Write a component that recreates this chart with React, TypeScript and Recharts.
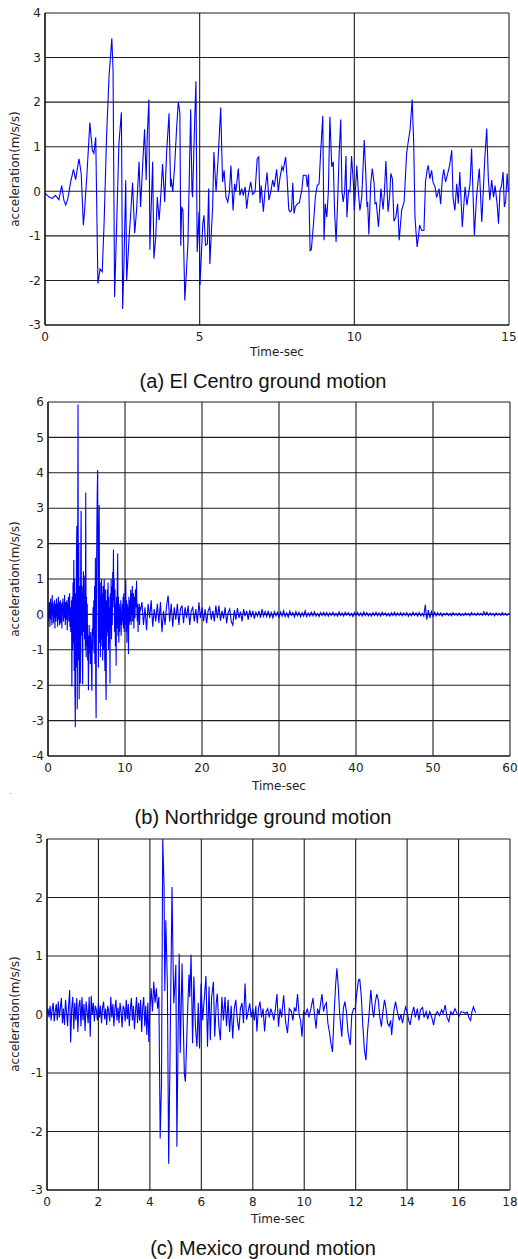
import { LineChart, Line, XAxis, YAxis, CartesianGrid } from 'recharts';

const elCentroTime = [
  0.0, 0.13, 0.24, 0.34, 0.45, 0.54, 0.61, 0.67, 0.74, 0.83,
  0.92, 0.99, 1.1, 1.17, 1.24, 1.28, 1.37, 1.45, 1.53, 1.58,
  1.64, 1.71, 1.78, 1.85, 1.91, 1.99, 2.07, 2.16, 2.2, 2.25,
  2.28, 2.39, 2.47, 2.51, 2.55, 2.61, 2.64, 2.72, 2.79, 2.83,
  2.9, 2.96, 3.04, 3.09, 3.17, 3.22, 3.27, 3.31, 3.36, 3.39,
  3.48, 3.52, 3.58, 3.63, 3.69, 3.72, 3.76, 3.8, 3.87, 3.93,
  4.01, 4.06, 4.08, 4.13, 4.19, 4.26, 4.31, 4.36, 4.39, 4.42,
  4.46, 4.52, 4.58, 4.62, 4.71, 4.75, 4.77, 4.84, 4.88, 4.92,
  4.98, 5.01,
  5.1, 5.14, 5.19, 5.25, 5.29, 5.33, 5.38, 5.42, 5.46, 5.53,
  5.6, 5.68, 5.74, 5.79, 5.85, 5.91, 5.96, 6.01, 6.08, 6.13,
  6.17, 6.25, 6.3, 6.36, 6.41, 6.47, 6.52, 6.57, 6.65, 6.71,
  6.79, 6.86, 6.91, 6.95, 6.99, 7.06, 7.11, 7.18, 7.24, 7.3,
  7.36, 7.41, 7.49, 7.54, 7.6, 7.66, 7.7, 7.78, 7.83, 7.88,
  7.92, 7.97, 8.01, 8.05, 8.09, 8.16, 8.22, 8.3, 8.35, 8.44,
  8.48, 8.52, 8.57, 8.61, 8.68, 8.74, 8.8, 8.86, 8.91, 8.98,
  9.02, 9.06, 9.11, 9.16, 9.21, 9.27, 9.32, 9.36, 9.41, 9.45,
  9.51, 9.56, 9.6, 9.64, 9.69, 9.73, 9.76, 9.81, 9.86, 9.91,
  9.97, 10.0,
  10.08, 10.13, 10.18, 10.24, 10.32, 10.37, 10.41, 10.43, 10.47, 10.53,
  10.58, 10.64, 10.67, 10.71, 10.78, 10.86, 10.93, 10.97, 11.02, 11.09,
  11.14, 11.18, 11.23, 11.28, 11.34, 11.4, 11.45, 11.53, 11.61, 11.69,
  11.75, 11.8, 11.87, 11.92, 11.96, 12.03, 12.07, 12.11, 12.18, 12.25,
  12.3, 12.35, 12.39, 12.44, 12.5, 12.54, 12.61, 12.66, 12.74, 12.79,
  12.84, 12.89, 12.95, 13.02, 13.08, 13.15, 13.19, 13.25, 13.31, 13.36,
  13.41, 13.49, 13.58, 13.64, 13.74, 13.79, 13.88, 13.95, 14.04, 14.12,
  14.18, 14.22, 14.28, 14.33, 14.38, 14.44, 14.5, 14.55, 14.62, 14.66,
  14.71, 14.76, 14.81, 14.85, 14.89, 14.94, 14.98, 15.0,
];
const elCentroAcc = [
  -0.04, -0.13, -0.16, -0.09, -0.19, 0.13, -0.2, -0.31, -0.16, 0.21,
  0.49, 0.26, 0.73, 0.4, -0.76, -0.43, 0.55, 1.54, 0.92, 0.85,
  1.21, -2.07, -1.74, -1.81, -0.73, 1.22, 2.57, 3.43, 2.72, -2.37,
  -1.66, 1.07, 1.77, -2.64, -1.7, 0.25, -2.0, -1.03, -0.28, 0.19,
  -0.94, -0.43, 0.66, -0.35, 0.77, 1.39, 0.25, 1.33, 2.06, -1.31,
  0.66, -1.51, -1.03, -0.13, -0.65, -0.35, 0.1, 0.61, -0.24, 0.85,
  1.75, 0.1, 0.28, -0.01, 0.55, 1.48, 2.0, 1.75, -1.22, -0.35,
  -0.43, -2.45, -1.7, -1.18, 1.84, 0.02, -0.13, 1.6, 2.47, -1.36,
  -0.46, -2.11,
  -0.73, -0.54, -1.21, -1.18, 0.06, -1.63, -0.88, -0.35, 0.88, -0.01,
  0.77, 1.88, 0.21, 0.47, -0.13, -0.24, -0.01, 0.58, -0.43, 0.17,
  -0.01, 0.51, -0.09, 0.06, -0.09, 0.1, -0.39, -0.09, 0.21, -0.07,
  -0.01, 0.73, 0.77, -0.26, 0.13, -0.46, -0.01, 0.42, -0.2, -0.01,
  0.25, 0.1, 0.49, -0.01, 0.32, 0.55, 0.47, 0.77, 0.25, -0.41,
  -0.46, -0.43, 0.19, -0.5, -0.35, -0.28, -0.26, 0.02, 0.36, 0.36,
  0.1, 0.38, -1.33, -1.31, -0.73, -0.13, 0.13, 0.17, 0.85, 1.69,
  -1.1, -0.28, -0.58, -0.01, 1.67, 0.55, 0.66, -0.43, -1.14, -0.43,
  0.85, 1.61, -0.01, -0.24, 0.02, 0.79, -0.58, 0.02, -0.01, 0.79,
  0.17, -0.43,
  0.58, -0.01, -0.43, -0.13, 1.15, 0.4, -0.35, -0.24, -0.97, 0.17,
  0.51, 0.17, -0.28, -0.26, -0.8, 0.06, -0.41, -0.05, 0.68, -0.46,
  -0.13, 0.4, 0.28, -0.67, -0.58, -0.28, -1.1, -0.43, -0.24, 0.85,
  1.15, 1.37, 2.06, 1.07, -0.58, -1.25, -1.03, -0.76, -0.88, -0.88,
  0.21, 0.47, 0.58, 0.28, 0.47, 0.21, 0.1, -0.14, 0.06, -0.29,
  0.25, 0.49, 0.21, 0.4, 0.58, 0.92, -0.13, -0.43, 0.17, -0.28,
  0.43, -0.8, 0.1, -0.31, 0.17, 0.96, -0.99, -0.13, 0.51, -0.69,
  0.17, 0.77, 1.41, 0.32, -0.2, 0.25, -0.13, 0.13, -0.31, -0.73,
  0.02, 0.13, 0.43, -0.35, -0.24, 0.4, -0.01, 0.02,
];

// (b) Northridge: 0-12 s sampled every 0.05 s, then 12.2-60 s every 0.2 s
const northridgeEarlyStep = 0.05;
const northridgeEarly = [
  0.1, -0.2, 0.3, -0.1, 0.35, -0.35, 0.2, 0.45, -0.15, 0.3,
  -0.3, 0.55, 0.0, 0.35, -0.25, 0.25, -0.1, 0.4, -0.4, 0.3,
  0.1, -0.2, 0.45, -0.05, 0.3, -0.35, 0.2, 0.5, -0.15, 0.35,
  -0.3, 0.15, 0.4, -0.25, 0.3, 0.05, -0.4, 0.35, 0.1, 0.45,
  -0.2, 0.25, -0.1, 0.55, 0.05, -0.3, 0.35, 0.2, -0.15, 0.4,
  -0.45, 0.3, 0.05, 0.5, -0.2, 0.25, 0.6, -0.35, 0.2, -0.5,
  -0.3, 0.4, -2.04, 0.5, -1.0, 0.9, -0.8, 1.54, -1.6, 1.0,
  -2.2, -3.19, 0.6, -1.5, 1.8, 2.5, -2.68, 1.2, 5.93, -1.3,
  2.0, -2.4, 0.8, -1.0, -1.95, 1.5, 2.93, -0.6, 0.8, -1.2,
  -1.97, 0.5, 1.22, -0.5, 1.1, -0.7, 0.3, -1.0, 3.44, -1.21,
  0.5, -0.9, 0.3, -1.3, -0.6, -2.14, -0.8, -0.3, -1.1, -0.6,
  -1.4, -0.5, -0.9, -1.6, -2.16, -0.4, -1.0, 0.2, -0.6, 0.4,
  -1.1, 0.8, -1.4, 1.6, -2.0, -2.93, 0.9, 2.6, 3.5, 4.08,
  1.0, -1.5, 2.2, 3.09, -0.8, 0.5, -1.2, 0.9, -0.9, 1.0,
  -0.7, 0.6, -1.3, 0.8, -1.0, 0.5, 1.0, -0.9, -1.6, 0.7,
  -1.8, -2.42, 0.4, -0.6, 0.7, -0.5, 0.9, -1.0, 0.5, -0.8,
  0.2, -1.95, 0.6, -0.4, 1.0, -0.7, 0.8, -0.3, 1.2, 0.4,
  1.83, 0.2, 1.0, -0.5, 0.7, -0.9, 0.3, -1.45, 0.5, -0.4,
  0.8, 1.72, -0.6, 0.5, -0.8, 0.3, -0.5, 0.2, -0.3, 0.4,
  -0.6, 0.1, -0.3, 0.3, -0.2, 0.5, -0.4, 0.6, -0.5, 0.2,
  -0.3, 0.7, 1.0, -0.5, 0.4, -0.8, 0.3, -0.4, 0.2, -1.12,
  0.5, -0.3, 0.4, -0.2, 0.3, 0.7, -0.3, 0.6, 0.0, 0.8,
  -0.2, 0.4, 0.6, -0.4, 0.3, 0.5, -0.1, 0.7, 0.2, 0.4,
  0.95, 0.1, -0.2, 0.3, -0.5, 0.2, -0.1, 0.3, -0.3, 0.2,
  0.1,
];
const northridgeTailStart = 12.2;
const northridgeTailStep = 0.2;
const northridgeTail = [
  0.35, -0.3, 0.2, -0.45, 0.3, -0.1, 0.4, -0.35, 0.15, -0.2,
  0.3, -0.25, 0.35, -0.5, 0.1, -0.3, 0.25, 0.53, -0.2, 0.3,
  -0.35, 0.2, -0.15, 0.3, -0.3, 0.15, 0.25, -0.25, 0.2, -0.1,
  0.25, -0.3, 0.1, 0.2, -0.2, 0.15, -0.25, 0.34, -0.1, 0.2,
  -0.2, 0.15, -0.25, 0.1, 0.2, -0.15, 0.1, -0.2, 0.25, -0.1,
  0.25, -0.18, 0.1, -0.12, 0.2, -0.25, 0.05, 0.15, -0.2, -0.3,
  0.12, -0.15, 0.18, -0.1, 0.08, -0.2, 0.15, -0.05, 0.1, -0.15,
  0.12, -0.08, 0.1, -0.12, 0.06, -0.05, 0.1, -0.1, 0.15, -0.05,
  0.08, -0.06, 0.1, -0.08, 0.05, -0.1, 0.08, -0.04, 0.06, -0.08,
  0.07, -0.05, 0.1, -0.06, 0.04, -0.08, 0.09, -0.03, 0.05, -0.07,
  0.08, -0.04, 0.06, -0.07, 0.05, -0.05, 0.1, -0.06, 0.04, -0.05,
  0.06, -0.04, 0.07, -0.05, 0.03, -0.06, 0.05, -0.03, 0.06, -0.04,
  0.05, -0.05, 0.04, -0.03, 0.06, -0.04, 0.03, -0.05, 0.07, -0.03,
  0.04, -0.05, 0.06, -0.02, 0.05, -0.04, 0.03, -0.06, 0.05, -0.03,
  0.06, -0.04, 0.04, -0.05, 0.07, -0.03, 0.05, -0.04, 0.03, -0.05,
  0.05, -0.03, 0.06, -0.04, 0.04, -0.05, 0.06, -0.02, 0.04, -0.04,
  0.03, -0.05, 0.05, -0.03, 0.06, -0.04, 0.04, -0.03, 0.05, -0.04,
  0.04, -0.03, 0.05, -0.05, 0.03, -0.04, 0.06, -0.03, 0.04, -0.05,
  0.05, -0.04, 0.03, -0.05, 0.27, -0.15, 0.12, -0.1, 0.08, -0.06,
  0.06, -0.04, 0.05, -0.03, 0.04, -0.05, 0.03, -0.02, 0.04, -0.03,
  0.03, -0.04, 0.05, -0.02, 0.03, -0.03, 0.04, -0.04, 0.02, -0.03,
  0.04, -0.02, 0.03, -0.04, 0.05, -0.02, 0.03, -0.03, 0.04, -0.02,
  0.03, -0.03, 0.08, -0.02, 0.06, -0.03, 0.04, -0.02, 0.03, -0.04,
  0.04, -0.02, 0.03, -0.03, 0.05, -0.02, 0.03, -0.03, 0.02, 0.0,
];

// (c) Mexico: 0-4 s noise every 0.04 s, then (time, acceleration) pairs
const mexicoNoiseStep = 0.04;
const mexicoNoise = [
  0.0, 0.1, -0.05, 0.15, -0.1, 0.08, 0.2, -0.12, 0.05, 0.18,
  -0.1, 0.22, -0.05, 0.12, 0.28, -0.15, 0.1, -0.18, 0.25, 0.05,
  -0.2, 0.15, 0.42, -0.48, 0.1, 0.3, -0.25, 0.2, -0.1, 0.28,
  -0.3, 0.15, 0.25, -0.2, 0.3, -0.1, 0.18, -0.28, 0.22, 0.05,
  -0.15, 0.3, -0.38, 0.32, 0.0, 0.2, -0.12, 0.15, 0.08, -0.1,
  0.2, -0.05, 0.15, -0.15, 0.12, 0.22, -0.08, 0.1, -0.18, 0.15,
  0.05, -0.12, 0.3, -0.05, 0.18, -0.2, 0.1, 0.25, -0.1, 0.12,
  -0.15, 0.2, 0.05, -0.22, 0.15, 0.1, -0.12, 0.25, -0.08, 0.18,
  -0.2, 0.1, 0.28, -0.1, 0.15, -0.25, 0.05, 0.3, -0.15, 0.2,
  -0.1, 0.25, -0.3, 0.12, 0.3, -0.2, 0.15, -0.35, 0.2, -0.47,
];
const mexicoTime = [
  4.0, 4.05, 4.1, 4.15, 4.2, 4.25, 4.3, 4.35, 4.4, 4.45,
  4.5, 4.55, 4.58, 4.62, 4.68, 4.73, 4.78, 4.86, 4.9, 4.93,
  4.97, 5.01, 5.05, 5.1, 5.14, 5.18, 5.25, 5.3, 5.34, 5.38,
  5.42, 5.47, 5.52, 5.55, 5.6, 5.66, 5.71, 5.77, 5.83, 5.88,
  5.93, 5.99, 6.05, 6.12, 6.18, 6.24, 6.3, 6.35, 6.4, 6.47,
  6.52, 6.58, 6.62, 6.68, 6.74, 6.8, 6.86, 6.92, 6.98, 7.04,
  7.1, 7.16, 7.22, 7.28, 7.34, 7.4, 7.46, 7.52, 7.58, 7.64,
  7.7, 7.76, 7.82, 7.88, 7.94, 8.0, 8.06, 8.12, 8.16, 8.22,
  8.28, 8.34, 8.4, 8.46, 8.52, 8.58, 8.64, 8.7, 8.76, 8.82,
  8.88, 8.94, 9.0, 9.06, 9.12, 9.2, 9.27, 9.35, 9.42, 9.5,
  9.56, 9.62, 9.68, 9.74, 9.8, 9.86, 9.91, 9.98, 10.05, 10.12,
  10.18, 10.26, 10.34, 10.4, 10.46, 10.52, 10.58, 10.64, 10.69, 10.75,
  10.8, 10.86, 10.92, 10.98, 11.04, 11.1, 11.16, 11.22, 11.27, 11.32,
  11.38, 11.46, 11.52, 11.58, 11.64, 11.7, 11.76, 11.79, 11.85, 11.92,
  11.98, 12.04, 12.11, 12.16, 12.22, 12.28, 12.34, 12.4, 12.46, 12.52,
  12.59, 12.65, 12.7, 12.76, 12.82, 12.88, 12.94, 13.0, 13.06, 13.12,
  13.18, 13.24, 13.3, 13.36, 13.4, 13.48, 13.55, 13.62, 13.7, 13.76,
  13.82, 13.88, 13.94, 14.0, 14.06, 14.12, 14.18, 14.26, 14.32, 14.4,
  14.46, 14.52, 14.6, 14.66, 14.74, 14.8, 14.88, 14.96, 15.03, 15.1,
  15.18, 15.26, 15.34, 15.4, 15.48, 15.55, 15.62, 15.7, 15.78, 15.86,
  15.94, 16.02, 16.1, 16.18, 16.26, 16.34, 16.4, 16.47, 16.52, 16.58,
  16.63, 16.68,
];
const mexicoAcc = [
  0.1, 0.45, 0.05, 0.56, 0.2, 0.45, 0.1, 0.3, -2.12, -1.2,
  3.0, 2.2, 0.4, 1.61, 0.5, -2.55, -0.8, 2.18, 0.9, 0.19,
  0.5, 0.85, -2.26, -0.2, 1.04, -0.66, 0.87, -0.2, -1.01, -1.15,
  -0.6, 0.1, 0.68, 0.3, 1.02, -0.49, 0.65, -0.2, -0.55, 0.2,
  -0.58, 0.53, -0.1, 0.3, 0.66, -0.55, 0.48, -0.44, 0.3, 0.56,
  -0.38, 0.2, 0.36, -0.2, -0.44, 0.3, -0.1, 0.3, -0.2, 0.25,
  -0.3, 0.15, -0.41, 0.1, 0.25, -0.1, -0.27, 0.1, 0.2, -0.15,
  0.53, -0.09, 0.05, 0.19, -0.05, 0.1, -0.1, 0.15, -0.29, 0.1,
  0.22, -0.05, 0.1, -0.29, 0.05, 0.1, -0.05, 0.1, 0.02, -0.1,
  0.1, 0.35, -0.21, 0.1, -0.05, 0.33, -0.1, -0.32, 0.1, 0.05,
  -0.1, 0.12, 0.05, 0.35, 0.0, -0.1, -0.38, 0.05, 0.0, 0.1,
  -0.05, 0.1, 0.28, 0.0, -0.24, 0.1, 0.0, 0.2, 0.35, 0.05,
  0.15, 0.2, -0.15, -0.3, -0.5, -0.64, 0.0, 0.5, 0.79, 0.5,
  0.0, -0.38, 0.1, 0.22, 0.05, -0.3, -0.45, -0.52, 0.0, 0.1,
  0.1, 0.35, 0.59, 0.6, 0.3, -0.2, -0.6, -0.78, -0.3, 0.0,
  0.42, 0.1, -0.05, 0.2, 0.35, 0.25, -0.05, -0.21, 0.05, 0.25,
  0.1, -0.15, -0.2, -0.1, -0.35, 0.05, 0.22, 0.05, -0.1, 0.0,
  -0.15, 0.0, 0.13, 0.05, -0.1, -0.18, 0.0, 0.13, -0.05, 0.1,
  -0.1, 0.08, 0.12, -0.05, 0.05, -0.08, 0.05, -0.05, -0.18, 0.0,
  0.05, -0.02, 0.08, 0.02, 0.16, -0.05, -0.12, 0.05, 0.0, 0.1,
  0.02, -0.03, 0.05, 0.04, 0.02, 0.04, -0.05, -0.1, 0.05, 0.13,
  0.06, 0.03,
];

const elCentroXTicks = [0, 5, 10, 15];
const elCentroYTicks = [-3, -2, -1, 0, 1, 2, 3, 4];
const northridgeXTicks = [0, 10, 20, 30, 40, 50, 60];
const northridgeYTicks = [-4, -3, -2, -1, 0, 1, 2, 3, 4, 5, 6];
const mexicoXTicks = [0, 2, 4, 6, 8, 10, 12, 14, 16, 18];
const mexicoYTicks = [-3, -2, -1, 0, 1, 2, 3];

const elCentroData = elCentroTime.map((t, i) => ({ t, a: elCentroAcc[i] }));
const northridgeData = [
  ...northridgeEarly.map((a, i) => ({ t: +(i * northridgeEarlyStep).toFixed(2), a })),
  ...northridgeTail.map((a, i) => ({ t: +(northridgeTailStart + i * northridgeTailStep).toFixed(2), a })),
];
const mexicoData = [
  ...mexicoNoise.map((a, i) => ({ t: +(i * mexicoNoiseStep).toFixed(2), a })),
  ...mexicoTime.map((t, i) => ({ t, a: mexicoAcc[i] })),
];

const tickFont = { fontSize: 12, fill: '#222', fontFamily: '"DejaVu Sans", sans-serif' };

interface PanelProps {
  data: { t: number; a: number }[];
  xTicks: number[];
  yTicks: number[];
  top: number;
  height: number;
  marginTop: number;
  axisWidth: number;
  marginRight: number;
}

function MotionPanel({ data, xTicks, yTicks, top, height, marginTop, axisWidth, marginRight }: PanelProps) {
  return (
    <div style={{ position: 'absolute', left: 0, top }}>
      <LineChart
        width={518}
        height={height}
        data={data}
        margin={{ top: marginTop, right: marginRight, bottom: 0, left: 0 }}
      >
        <CartesianGrid stroke="#1e1e1e" strokeWidth={1.1} />
        <XAxis
          type="number"
          dataKey="t"
          domain={[xTicks[0], xTicks[xTicks.length - 1]]}
          ticks={xTicks}
          interval={0}
          height={20}
          tickSize={0}
          tickMargin={7}
          tickLine={false}
          axisLine={{ stroke: '#111', strokeWidth: 1.2 }}
          tick={tickFont}
          allowDataOverflow
        />
        <YAxis
          type="number"
          domain={[yTicks[0], yTicks[yTicks.length - 1]]}
          ticks={yTicks}
          interval={0}
          width={axisWidth}
          tickSize={0}
          tickMargin={4}
          tickLine={false}
          axisLine={{ stroke: '#111', strokeWidth: 1.2 }}
          tick={tickFont}
          allowDataOverflow
        />
        <Line
          type="linear"
          dataKey="a"
          stroke="#0000ff"
          strokeWidth={1.1}
          dot={false}
          isAnimationActive={false}
        />
      </LineChart>
    </div>
  );
}

const axisText: React.CSSProperties = {
  position: 'absolute',
  fontFamily: '"DejaVu Sans", sans-serif',
  fontSize: 12,
  lineHeight: '12px',
  color: '#222',
  whiteSpace: 'nowrap',
};

const captionText: React.CSSProperties = {
  position: 'absolute',
  fontFamily: '"Liberation Sans", Arial, sans-serif',
  fontSize: 20,
  lineHeight: '20px',
  color: '#111',
  whiteSpace: 'nowrap',
  transform: 'translateX(-50%)',
};

function YLabel({ cy }: { cy: number }) {
  return (
    <div style={{ ...axisText, left: 15, top: cy, transform: 'translate(-50%, -50%) rotate(-90deg)' }}>
      acceleration(m/s/s)
    </div>
  );
}

function XLabel({ cx, cy }: { cx: number; cy: number }) {
  return (
    <div style={{ ...axisText, left: cx, top: cy - 6, transform: 'translateX(-50%)' }}>Time-sec</div>
  );
}

export default function App() {
  return (
    <div style={{ position: 'absolute', left: 0, top: 0, width: 518, height: 1259, background: '#fff', overflow: 'hidden' }}>
      <MotionPanel data={elCentroData} xTicks={elCentroXTicks} yTicks={elCentroYTicks}
        top={0} height={345} marginTop={13} axisWidth={45} marginRight={9} />
      <YLabel cy={169} />
      <XLabel cx={277} cy={352} />
      <div style={{ ...captionText, left: 263, top: 371 }}>(a) El Centro ground motion</div>

      <MotionPanel data={northridgeData} xTicks={northridgeXTicks} yTicks={northridgeYTicks}
        top={390} height={386} marginTop={12} axisWidth={48} marginRight={8} />
      <YLabel cy={579} />
      <XLabel cx={279} cy={786} />
      <div style={{ position: 'absolute', left: 9, top: 785, fontSize: 10, color: '#999', fontFamily: 'sans-serif' }}>.</div>
      <div style={{ ...captionText, left: 263, top: 807 }}>(b) Northridge ground motion</div>

      <MotionPanel data={mexicoData} xTicks={mexicoXTicks} yTicks={mexicoYTicks}
        top={830} height={380} marginTop={9} axisWidth={47} marginRight={8} />
      <YLabel cy={1014} />
      <XLabel cx={278} cy={1219} />
      <div style={{ ...captionText, left: 263, top: 1238 }}>(c) Mexico ground motion</div>
    </div>
  );
}
